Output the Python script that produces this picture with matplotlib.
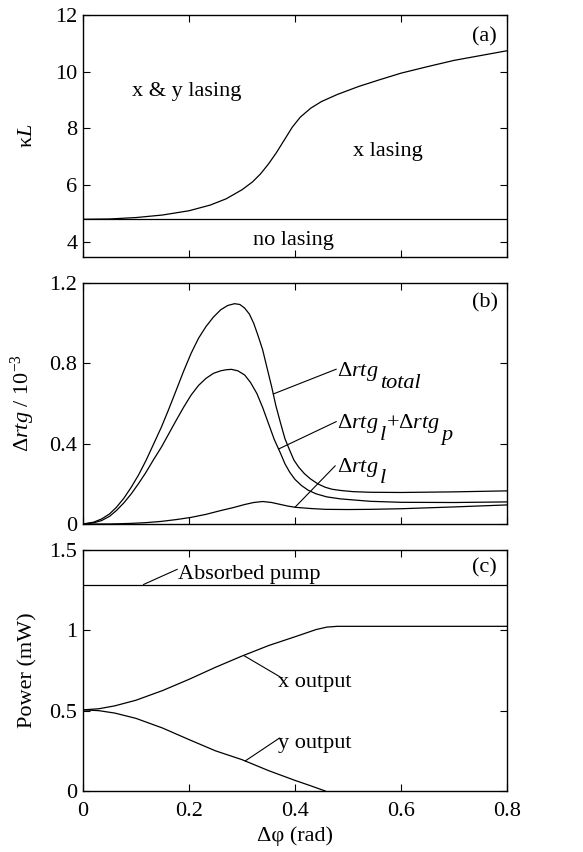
import numpy as np
import matplotlib
matplotlib.use("Agg")
import matplotlib.pyplot as plt

plt.rcParams['font.family'] = ['Liberation Serif', 'DejaVu Serif']
plt.rcParams['mathtext.fontset'] = 'custom'
plt.rcParams['mathtext.rm'] = 'Liberation Serif'
plt.rcParams['mathtext.it'] = 'Liberation Serif:italic'
plt.rcParams['mathtext.bf'] = 'Liberation Serif:bold'
FS = 16

# ---------------- data ----------------
# (a) threshold coupling kappa*L vs phase
a_x = [0.0, 0.05, 0.1, 0.15, 0.2, 0.24, 0.27, 0.30, 0.32, 0.335, 0.35, 0.365,
       0.38, 0.395, 0.41, 0.43, 0.45, 0.48, 0.52, 0.56, 0.6, 0.65, 0.7, 0.75, 0.8]
a_y = [4.8, 4.81, 4.86, 4.95, 5.1, 5.3, 5.52, 5.84, 6.12, 6.4, 6.75, 7.15,
       7.6, 8.05, 8.4, 8.72, 8.95, 9.2, 9.48, 9.72, 9.95, 10.18, 10.4, 10.57, 10.74]
a_nolase = 4.8

# (b) delta rtg / 1e-3
b_tot_x = [0.0, 0.02, 0.035, 0.05, 0.063, 0.077, 0.091, 0.105, 0.119, 0.133,
           0.148, 0.162, 0.176, 0.19, 0.204, 0.218, 0.232, 0.246, 0.26, 0.273,
           0.286, 0.296, 0.305, 0.314, 0.322, 0.33, 0.339, 0.347, 0.356, 0.364,
           0.373, 0.381, 0.39, 0.398, 0.407, 0.418, 0.429, 0.443, 0.457, 0.47,
           0.486, 0.51, 0.542, 0.6, 0.7, 0.8]
b_total = [0.0, 0.009, 0.025, 0.05, 0.083, 0.128, 0.183, 0.245, 0.317, 0.397,
           0.483, 0.573, 0.667, 0.762, 0.85, 0.925, 0.983, 1.03, 1.067, 1.088,
           1.097, 1.093, 1.075, 1.045, 1.0, 0.94, 0.867, 0.78, 0.683, 0.588,
           0.5, 0.425, 0.367, 0.318, 0.283, 0.25, 0.225, 0.2, 0.183, 0.173,
           0.167, 0.161, 0.158, 0.157, 0.16, 0.165]
b_lp_x = [0.0, 0.02, 0.035, 0.05, 0.063, 0.077, 0.091, 0.105, 0.119, 0.133,
          0.148, 0.162, 0.176, 0.19, 0.204, 0.218, 0.232, 0.246, 0.26, 0.27,
          0.28, 0.292, 0.305, 0.316, 0.328, 0.339, 0.35, 0.361, 0.373, 0.381,
          0.39, 0.4, 0.412, 0.425, 0.44, 0.46, 0.486, 0.542, 0.6, 0.7, 0.8]
b_lp = [0.0, 0.006, 0.017, 0.038, 0.067, 0.105, 0.15, 0.202, 0.258, 0.32,
        0.383, 0.45, 0.517, 0.582, 0.642, 0.69, 0.725, 0.75, 0.763, 0.768,
        0.77, 0.763, 0.742, 0.705, 0.65, 0.58, 0.5, 0.42, 0.35, 0.3,
        0.258, 0.222, 0.192, 0.168, 0.15, 0.135, 0.125, 0.113, 0.108, 0.107, 0.11]
b_l_x = [0.0, 0.05, 0.091, 0.12, 0.148, 0.176, 0.204, 0.232, 0.26, 0.284,
         0.305, 0.322, 0.339, 0.356, 0.373, 0.387, 0.401, 0.43, 0.457, 0.5,
         0.542, 0.6, 0.7, 0.8]
b_l = [0.0, 0.0, 0.003, 0.007, 0.013, 0.022, 0.033, 0.048, 0.067, 0.082,
       0.097, 0.107, 0.112, 0.107, 0.097, 0.089, 0.083, 0.077, 0.073, 0.072,
       0.073, 0.076, 0.085, 0.095]

# (c) powers (mW)
c_pump_x = [0.0, 0.8]
c_pump = [1.285, 1.285]
c_xo_x = [0.0, 0.03, 0.06, 0.1, 0.15, 0.2, 0.25, 0.3, 0.35, 0.4, 0.44, 0.46,
          0.48, 0.8]
c_xo = [0.505, 0.512, 0.53, 0.565, 0.625, 0.695, 0.77, 0.84, 0.905, 0.96,
        1.005, 1.02, 1.025, 1.025]
c_yo_x = [0.0, 0.03, 0.06, 0.1, 0.15, 0.2, 0.25, 0.3, 0.35, 0.4, 0.43, 0.457]
c_yo = [0.505, 0.5, 0.485, 0.452, 0.392, 0.32, 0.25, 0.195, 0.127, 0.066,
        0.032, 0.0]

x_ticks = [0, 0.2, 0.4, 0.6, 0.8]
x_ticklabels = ['0', '0.2', '0.4', '0.6', '0.8']
a_ticks = [4, 6, 8, 10, 12]
a_ticklabels = ['4', '6', '8', '10', '12']
b_ticks = [0, 0.4, 0.8, 1.2]
b_ticklabels = ['0', '0.4', '0.8', '1.2']
c_ticks = [0, 0.5, 1, 1.5]
c_ticklabels = ['0', '0.5', '1', '1.5']

# ---------------- figure ----------------
fig = plt.figure(figsize=(5.83, 8.52), dpi=100)
W, H = 583.0, 852.0
left, right = 83 / W, 507 / W

def make_ax(top_px, bot_px):
    return fig.add_axes([left, 1 - bot_px / H, right - left, (bot_px - top_px) / H])

axa = make_ax(15, 257)
axb = make_ax(283, 524)
axc = make_ax(550, 791)

lw = 0.9
for ax in (axa, axb, axc):
    ax.set_xlim(0, 0.8)
    ax.set_xticks(x_ticks)
    ax.tick_params(direction='in', length=5, width=0.8, top=True, right=True,
                   labelsize=FS, pad=4)
    for s in ax.spines.values():
        s.set_linewidth(1.0)

axa.set_xticklabels([])
axb.set_xticklabels([])
axc.set_xticklabels(x_ticklabels)
axc.tick_params(axis='x', pad=8)

# (a)
axa.plot(a_x, a_y, color='black', lw=lw)
axa.axhline(a_nolase, color='black', lw=lw)
axa.set_ylim(3.47, 12)
axa.set_yticks(a_ticks)
axa.set_yticklabels(a_ticklabels)
axa.set_ylabel(r'$\mathrm{\kappa}L$', fontsize=FS)
axa.text(0.196, 9.30, 'x & y lasing', fontsize=FS, ha='center', va='center')
axa.text(0.576, 7.19, 'x lasing', fontsize=FS, ha='center', va='center')
axa.text(0.397, 4.06, 'no lasing', fontsize=FS, ha='center', va='center')
axa.text(0.758, 11.24, '(a)', fontsize=FS, ha='center', va='center')

# (b)
axb.plot(b_tot_x, b_total, color='black', lw=lw)
axb.plot(b_lp_x, b_lp, color='black', lw=lw)
axb.plot(b_l_x, b_l, color='black', lw=lw)
axb.set_ylim(0, 1.2)
axb.set_yticks(b_ticks)
axb.set_yticklabels(b_ticklabels)
axb.set_ylabel(r'$\Delta rtg$ / 10$^{-3}$', fontsize=FS)
axb.text(0.758, 1.10, '(b)', fontsize=FS, ha='center', va='center')


def leader(ax, xc, xs, ys, xt, yt):
    yc = np.interp(xc, xs, ys)
    ax.annotate('', xy=(xc, yc), xytext=(xt, yt),
                arrowprops=dict(arrowstyle='-', lw=0.8, color='black',
                                shrinkA=0, shrinkB=0))


SUB_DROP = 8.5  # points


def rich(ax, x, y, parts):
    """parts: list of (text, is_sub); subscripts at full size, lowered."""
    first = ax.text(x, y, parts[0][0], fontsize=FS, ha='left', va='baseline')
    prev = first
    for txt, is_sub in parts[1:]:
        dy = -SUB_DROP if is_sub else 0.0
        dx = 0.8 if is_sub else 0.3
        prev = ax.annotate(txt, xy=(1, y), xycoords=(prev, ax.transData),
                           xytext=(dx, dy), textcoords='offset points',
                           fontsize=FS, ha='left', va='baseline',
                           style='italic' if is_sub else 'normal')
    return first


leader(axb, 0.359, b_tot_x, b_total, 0.478, 0.771)
rich(axb, 0.479, 0.738, [(r'$\Delta rtg$', False), ('total', True)])
leader(axb, 0.369, b_lp_x, b_lp, 0.478, 0.51)
rich(axb, 0.479, 0.477, [(r'$\Delta rtg$', False), ('l', True),
                         (r'+$\Delta rtg$', False), ('p', True)])
leader(axb, 0.40, b_l_x, b_l, 0.476, 0.29)
rich(axb, 0.479, 0.261, [(r'$\Delta rtg$', False), ('l', True)])

# (c)
axc.plot(c_pump_x, c_pump, color='black', lw=lw)
axc.plot(c_xo_x, c_xo, color='black', lw=lw)
axc.plot(c_yo_x, c_yo, color='black', lw=lw)
axc.set_ylim(0, 1.5)
axc.set_yticks(c_ticks)
axc.set_yticklabels(c_ticklabels)
axc.set_ylabel('Power (mW)', fontsize=FS)
axc.set_xlabel('Δφ (rad)', fontsize=FS)
axc.text(0.758, 1.39, '(c)', fontsize=FS, ha='center', va='center')
leader(axc, 0.114, c_pump_x, c_pump, 0.178, 1.38)
axc.text(0.18, 1.32, 'Absorbed pump', fontsize=FS, ha='left', va='baseline')
leader(axc, 0.303, c_xo_x, c_xo, 0.372, 0.71)
axc.text(0.368, 0.647, 'x output', fontsize=FS, ha='left', va='baseline')
leader(axc, 0.306, c_yo_x, c_yo, 0.371, 0.33)
axc.text(0.368, 0.266, 'y output', fontsize=FS, ha='left', va='baseline')

for ax in (axa, axb, axc):
    ax.yaxis.set_label_coords(-0.108, 0.5)
axc.xaxis.set_label_coords(0.5, -0.145)

fig.savefig('out.png', dpi=100)
